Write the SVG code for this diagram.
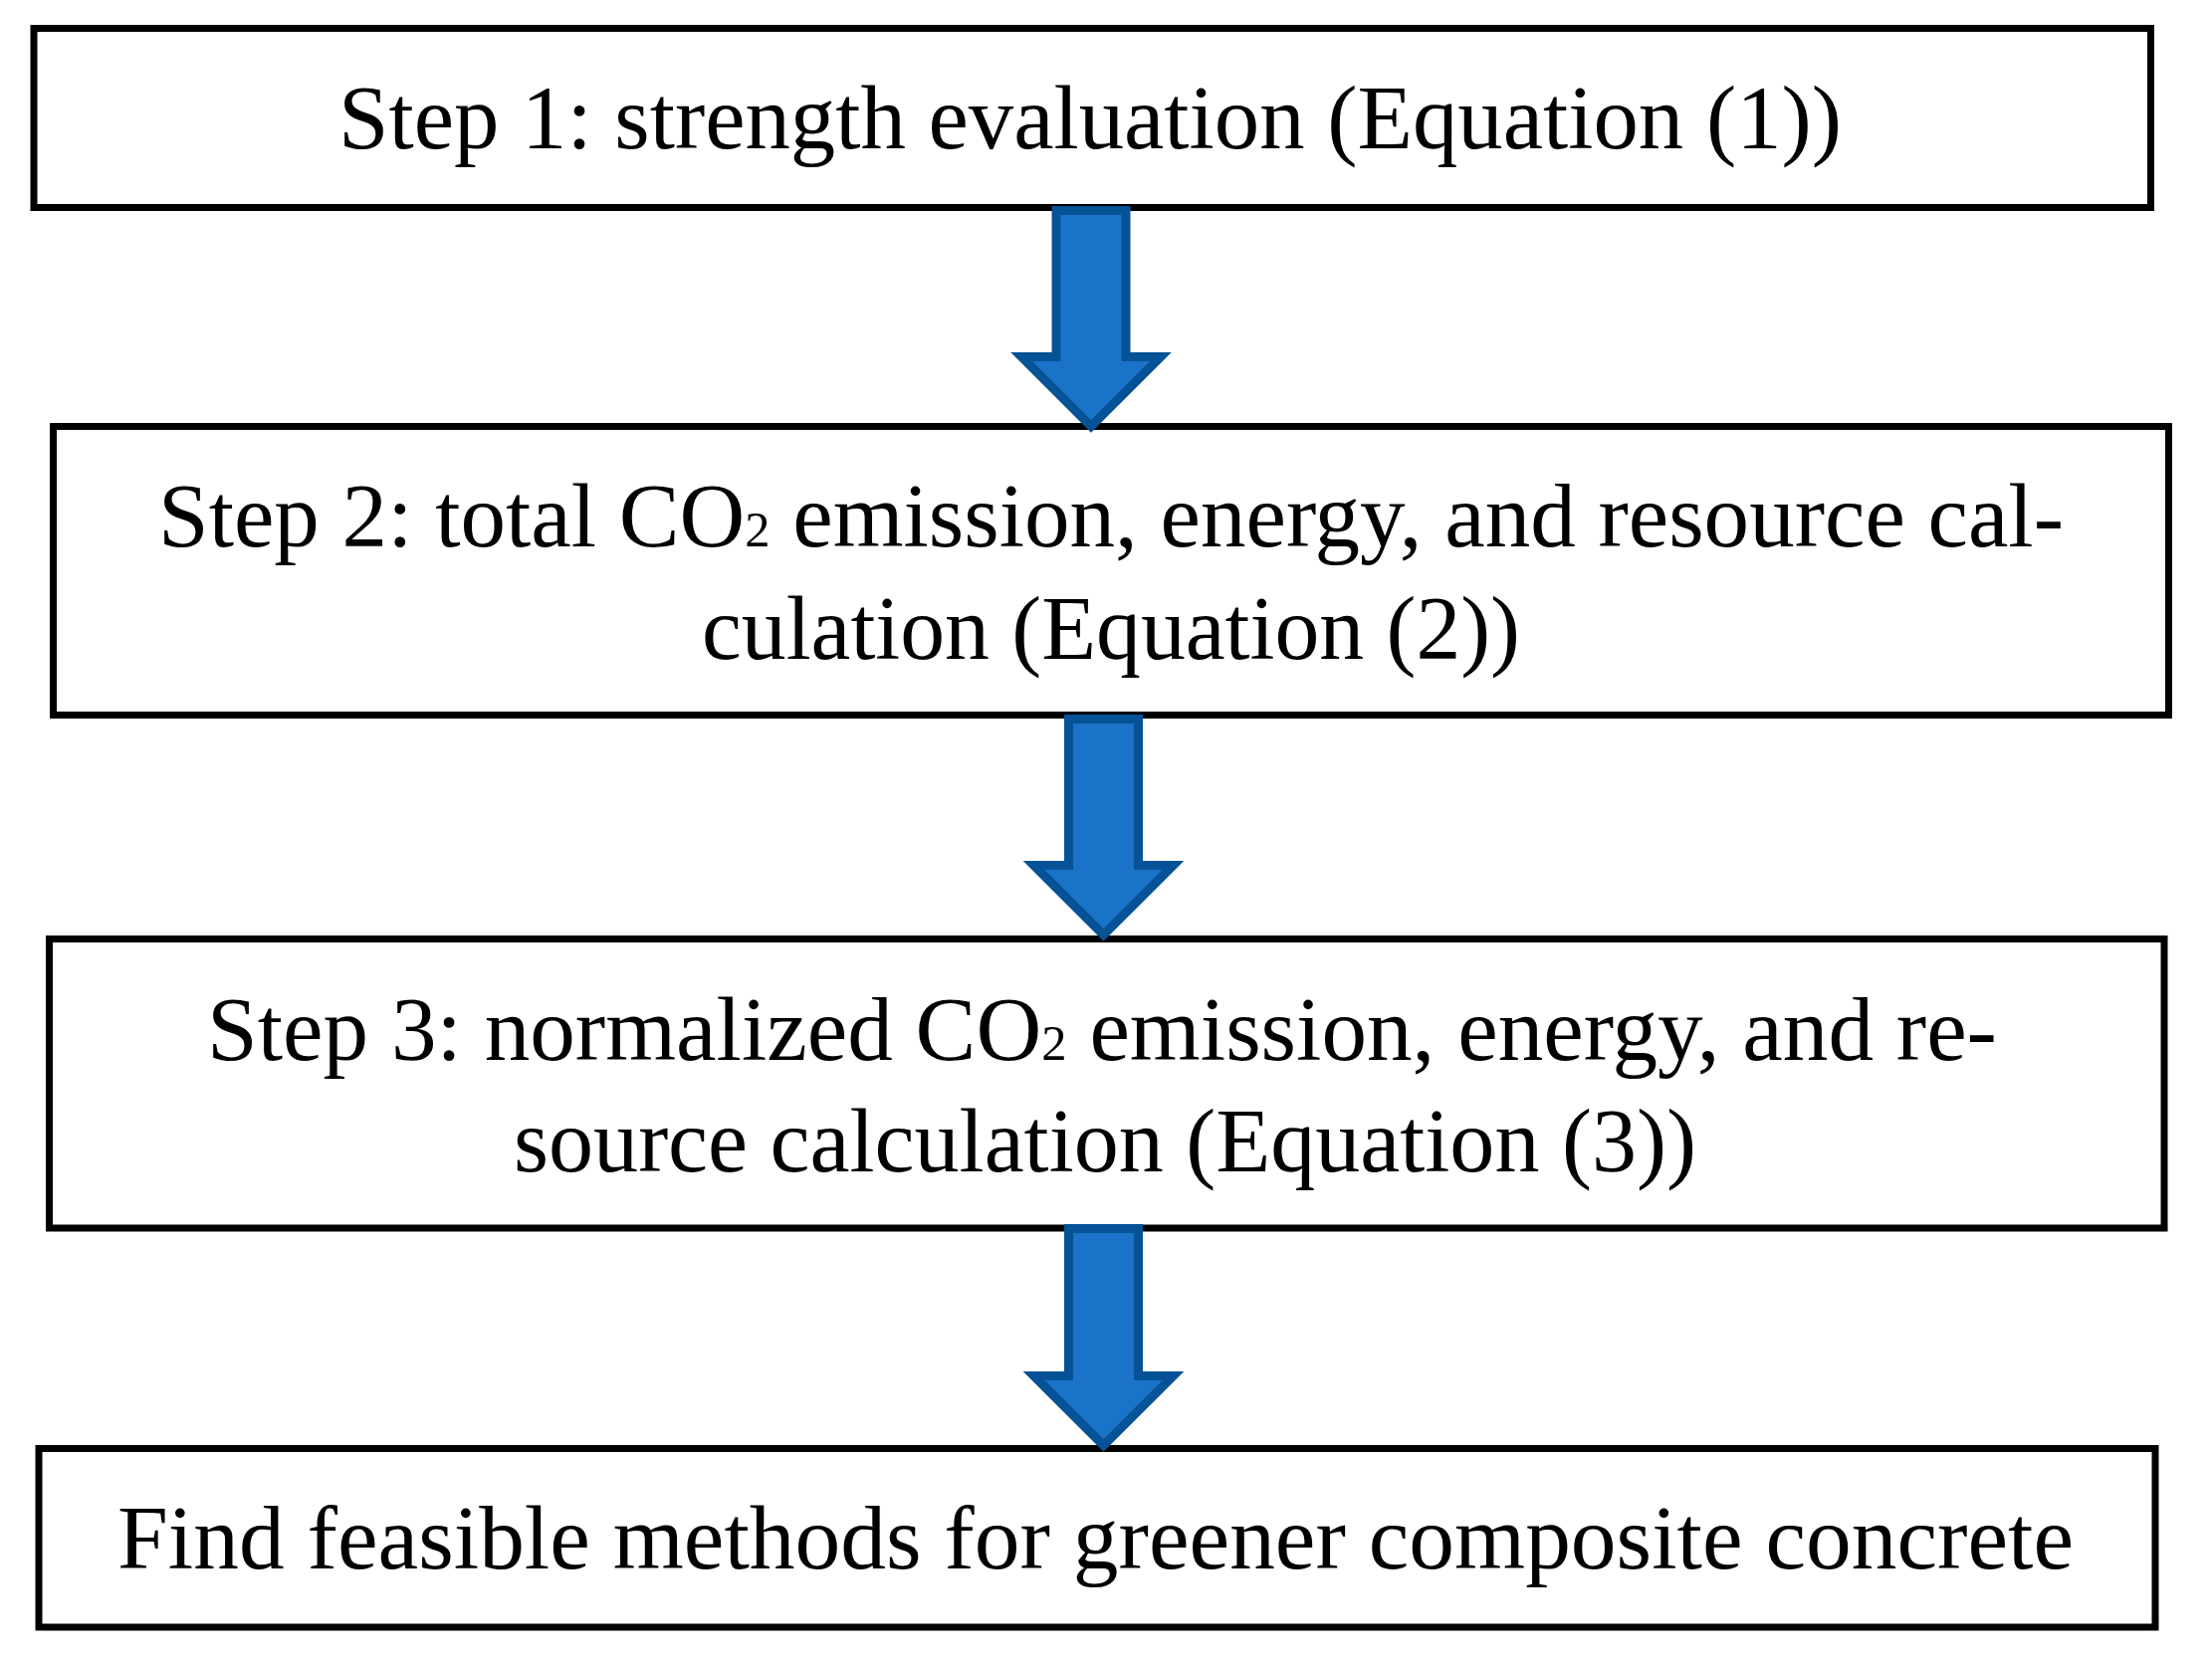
<svg xmlns="http://www.w3.org/2000/svg" width="2222" height="1670" viewBox="0 0 2222 1670">
<style>
.box{fill:#ffffff;stroke:#000000;stroke-width:7}
.lbl{font-family:"Liberation Serif","Times New Roman",serif;font-size:90px;fill:#000000}
.sub{font-size:50px}
.arrow{fill:#1A73C8;stroke:#065296;stroke-width:9;stroke-linejoin:miter;stroke-miterlimit:10}
</style>
<rect width="2222" height="1670" fill="#ffffff"/>
<g id="step1">
<rect class="box" x="34" y="28.5" width="2126.5" height="180"/>
<text class="lbl" x="340" y="149" textLength="1510" lengthAdjust="spacingAndGlyphs">Step 1: strength evaluation (Equation (1))</text>
</g>
<g id="step2">
<rect class="box" x="53.5" y="428.5" width="2125" height="290"/>
<text class="lbl" x="159" y="549" textLength="1914" lengthAdjust="spacingAndGlyphs">Step 2: total CO<tspan class="sub">2</tspan> emission, energy, and resource cal-</text>
<text class="lbl" x="705" y="662" textLength="822" lengthAdjust="spacingAndGlyphs">culation (Equation (2))</text>
</g>
<g id="step3">
<rect class="box" x="49.5" y="943.5" width="2124.5" height="290.5"/>
<text class="lbl" x="208" y="1065" textLength="1798" lengthAdjust="spacingAndGlyphs">Step 3: normalized CO<tspan class="sub">2</tspan> emission, energy, and re-</text>
<text class="lbl" x="516" y="1177" textLength="1188" lengthAdjust="spacingAndGlyphs">source calculation (Equation (3))</text>
</g>
<g id="result">
<rect class="box" x="39" y="1455.5" width="2126" height="179.5"/>
<text class="lbl" x="118" y="1576" textLength="1965" lengthAdjust="spacingAndGlyphs">Find feasible methods for greener composite concrete</text>
</g>
<g id="connectors">
<polygon class="arrow" points="1061,211.5 1131,211.5 1131,358.5 1166,358.5 1096,428.5 1026,358.5 1061,358.5"/>
<polygon class="arrow" points="1073.5,722.5 1143.5,722.5 1143.5,869.5 1178.5,869.5 1108.5,939.5 1038.5,869.5 1073.5,869.5"/>
<polygon class="arrow" points="1073.5,1234.5 1143.5,1234.5 1143.5,1382.5 1178.5,1382.5 1108.5,1452.5 1038.5,1382.5 1073.5,1382.5"/>
</g>
</svg>
